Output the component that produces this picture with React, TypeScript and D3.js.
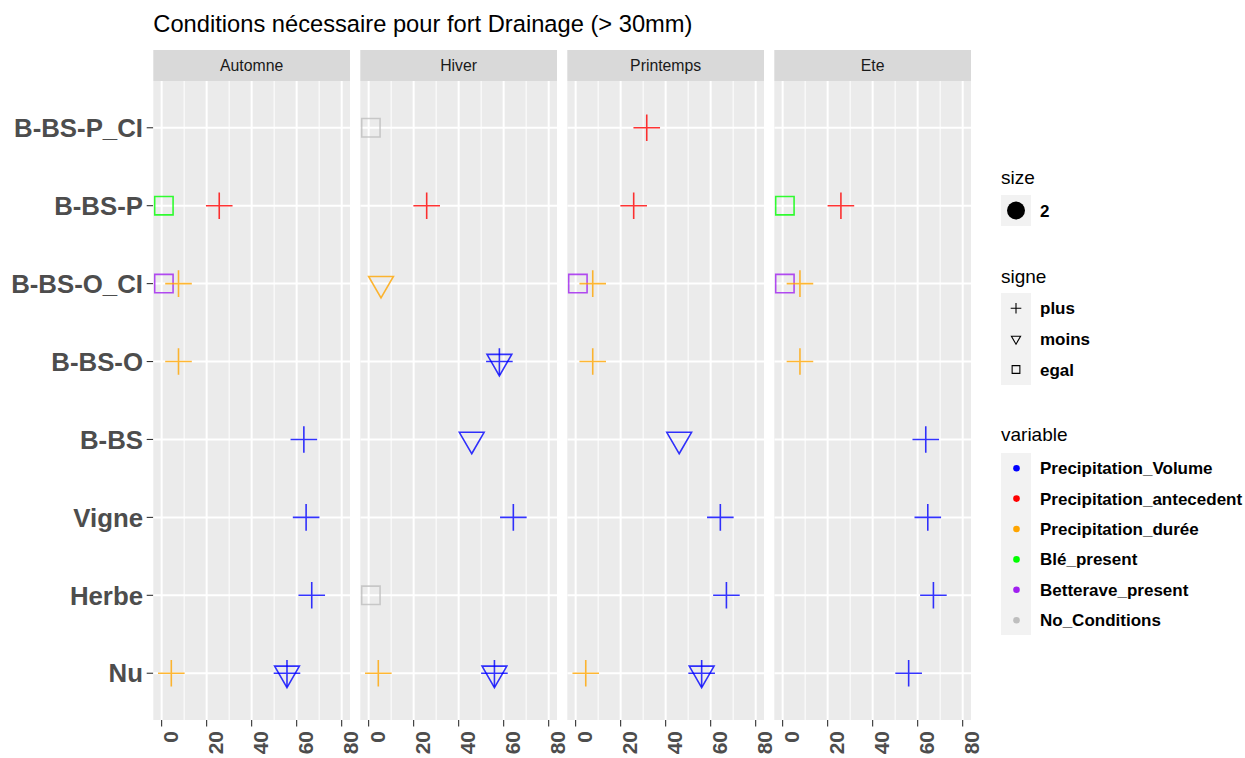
import React from "react";
import * as d3 from "d3";

const categories = ["B-BS-P_CI", "B-BS-P", "B-BS-O_CI", "B-BS-O", "B-BS", "Vigne", "Herbe", "Nu"];
const seasons = ["Automne", "Hiver", "Printemps", "Ete"];
const variables = ["Precipitation_Volume", "Precipitation_antecedent", "Precipitation_durée", "Blé_present", "Betterave_present", "No_Conditions"];
const signes = ["plus", "moins", "egal"];
const sizeLevels = ["2"];
const xTicks = [0, 20, 40, 60, 80];
const xMinorTicks = [10, 30, 50, 70];

// [category, variable, signe, value]
const automne: [string, string, string, number][] = [
  ["B-BS-P", "Blé_present", "egal", 1],
  ["B-BS-P", "Precipitation_antecedent", "plus", 25.6],
  ["B-BS-O_CI", "Betterave_present", "egal", 1],
  ["B-BS-O_CI", "Precipitation_durée", "plus", 7.5],
  ["B-BS-O", "Precipitation_durée", "plus", 7.5],
  ["B-BS", "Precipitation_Volume", "plus", 63.2],
  ["Vigne", "Precipitation_Volume", "plus", 64.2],
  ["Herbe", "Precipitation_Volume", "plus", 66.7],
  ["Nu", "Precipitation_durée", "plus", 4.3],
  ["Nu", "Precipitation_Volume", "moins", 55.7],
  ["Nu", "Precipitation_Volume", "plus", 55.7],
];
const hiver: [string, string, string, number][] = [
  ["B-BS-P_CI", "No_Conditions", "egal", 1],
  ["B-BS-P", "Precipitation_antecedent", "plus", 25.8],
  ["B-BS-O_CI", "Precipitation_durée", "moins", 5.5],
  ["B-BS-O", "Precipitation_Volume", "moins", 58.1],
  ["B-BS-O", "Precipitation_Volume", "plus", 58.1],
  ["B-BS", "Precipitation_Volume", "moins", 45.8],
  ["Vigne", "Precipitation_Volume", "plus", 64.3],
  ["Herbe", "No_Conditions", "egal", 1],
  ["Nu", "Precipitation_durée", "plus", 4.3],
  ["Nu", "Precipitation_Volume", "moins", 55.9],
  ["Nu", "Precipitation_Volume", "plus", 55.9],
];
const printemps: [string, string, string, number][] = [
  ["B-BS-P_CI", "Precipitation_antecedent", "plus", 31.6],
  ["B-BS-P", "Precipitation_antecedent", "plus", 25.8],
  ["B-BS-O_CI", "Betterave_present", "egal", 1],
  ["B-BS-O_CI", "Precipitation_durée", "plus", 7.6],
  ["B-BS-O", "Precipitation_durée", "plus", 7.6],
  ["B-BS", "Precipitation_Volume", "moins", 46],
  ["Vigne", "Precipitation_Volume", "plus", 64.3],
  ["Herbe", "Precipitation_Volume", "plus", 67],
  ["Nu", "Precipitation_durée", "plus", 4.5],
  ["Nu", "Precipitation_Volume", "moins", 56],
  ["Nu", "Precipitation_Volume", "plus", 56],
];
const ete: [string, string, string, number][] = [
  ["B-BS-P", "Blé_present", "egal", 1],
  ["B-BS-P", "Precipitation_antecedent", "plus", 25.9],
  ["B-BS-O_CI", "Betterave_present", "egal", 1],
  ["B-BS-O_CI", "Precipitation_durée", "plus", 7.7],
  ["B-BS-O", "Precipitation_durée", "plus", 7.7],
  ["B-BS", "Precipitation_Volume", "plus", 63.6],
  ["Vigne", "Precipitation_Volume", "plus", 64.5],
  ["Herbe", "Precipitation_Volume", "plus", 67],
  ["Nu", "Precipitation_Volume", "plus", 56],
];
const seasonData = [automne, hiver, printemps, ete];

const colorScale = d3
  .scaleOrdinal<string, string>()
  .domain(variables)
  .range(["#0000FF", "#FF0000", "#FFA500", "#00FF00", "#A020F0", "#BEBEBE"]);

const FONT = "'Liberation Sans', Arial, Helvetica, sans-serif";

function shapePath(signe: string, s: number): string {
  if (signe === "plus") {
    const h = 13.3 * s;
    return `M${-h},0H${h}M0,${-h}V${h}`;
  }
  if (signe === "moins") {
    const r = 14.3 * s;
    const w = r * 0.866;
    return `M0,${r}L${w},${-r / 2}L${-w},${-r / 2}Z`;
  }
  const q = 9.2 * s;
  return `M${-q},${-q}H${q}V${q}H${-q}Z`;
}

export default function App() {
  const panelLeft0 = 153.3;
  const panelW = 196.7;
  const gap = 10.3;
  const stripTop = 50;
  const panelTop = 81;
  const panelBottom = 720;

  const x = d3.scaleLinear().domain([-3.7, 83.7]).range([0, panelW]);
  const y = d3.scalePoint<string>().domain(categories).range([panelTop, panelBottom]).padding(0.6);

  const lx = 1001;
  const labelX = 1040;

  return (
    <svg
      width={1245}
      height={758}
      style={{ position: "absolute", left: 0, top: 0, background: "#FFFFFF" }}
      fontFamily={FONT}
    >
      <rect x={0} y={0} width={1245} height={758} fill="#FFFFFF" />
      <text x={panelLeft0} y={32} fontSize={23.7} fill="#000000">
        Conditions nécessaire pour fort Drainage (&gt; 30mm)
      </text>

      {/* y axis labels and ticks */}
      {categories.map((c) => (
        <g key={c}>
          <text
            x={143}
            y={y(c)!}
            dy={9.2}
            textAnchor="end"
            fontSize={25.8}
            fontWeight="bold"
            fill="#4D4D4D"
          >
            {c}
          </text>
          <line x1={146.7} x2={panelLeft0} y1={y(c)!} y2={y(c)!} stroke="#333333" strokeWidth={1.1} />
        </g>
      ))}

      {seasons.map((s, i) => {
        const left = panelLeft0 + i * (panelW + gap);
        const pts = seasonData[i];
        return (
          <g key={s}>
            <rect x={left} y={stripTop} width={panelW} height={panelTop - stripTop} fill="#D9D9D9" />
            <text
              x={left + panelW / 2}
              y={(stripTop + panelTop) / 2 + 5.6}
              textAnchor="middle"
              fontSize={15.8}
              fill="#1A1A1A"
            >
              {s}
            </text>
            <rect x={left} y={panelTop} width={panelW} height={panelBottom - panelTop} fill="#EBEBEB" />
            <clipPath id={`clip${i}`}>
              <rect x={left} y={panelTop} width={panelW} height={panelBottom - panelTop} />
            </clipPath>
            <g clipPath={`url(#clip${i})`}>
              {xMinorTicks.map((t) => (
                <line
                  key={`m${t}`}
                  x1={left + x(t)}
                  x2={left + x(t)}
                  y1={panelTop}
                  y2={panelBottom}
                  stroke="#FFFFFF"
                  strokeWidth={1}
                />
              ))}
              {xTicks.map((t) => (
                <line
                  key={`M${t}`}
                  x1={left + x(t)}
                  x2={left + x(t)}
                  y1={panelTop}
                  y2={panelBottom}
                  stroke="#FFFFFF"
                  strokeWidth={2}
                />
              ))}
              {categories.map((c) => (
                <line
                  key={c}
                  x1={left}
                  x2={left + panelW}
                  y1={y(c)!}
                  y2={y(c)!}
                  stroke="#FFFFFF"
                  strokeWidth={2}
                />
              ))}
              {pts.map((p, j) => (
                <path
                  key={j}
                  transform={`translate(${left + x(p[3])},${y(p[0])})`}
                  d={shapePath(p[2], 1)}
                  fill="none"
                  stroke={colorScale(p[1])}
                  strokeOpacity={0.8}
                  strokeWidth={1.6}
                />
              ))}
            </g>
            {xTicks.map((t) => (
              <g key={`t${t}`}>
                <line
                  x1={left + x(t)}
                  x2={left + x(t)}
                  y1={panelBottom}
                  y2={panelBottom + 6.6}
                  stroke="#333333"
                  strokeWidth={1.1}
                />
                <text
                  transform={`translate(${left + x(t) + 16.8},${731}) rotate(-90)`}
                  textAnchor="end"
                  fontSize={21}
                  fontWeight="bold"
                  fill="#4D4D4D"
                >
                  {t}
                </text>
              </g>
            ))}
          </g>
        );
      })}

      {/* Legend: size */}
      <text x={lx} y={184} fontSize={19} fill="#000000">size</text>
      <rect x={lx} y={195} width={30} height={31} fill="#F2F2F2" />
      {sizeLevels.map((l) => (
        <g key={l}>
          <circle cx={lx + 15} cy={210.5} r={9} fill="#000000" />
          <text x={labelX} y={216.5} fontSize={17} fontWeight="bold" fill="#000000">{l}</text>
        </g>
      ))}

      {/* Legend: signe */}
      <text x={lx} y={283} fontSize={19} fill="#000000">signe</text>
      <rect x={lx} y={293} width={30} height={92} fill="#F2F2F2" />
      {signes.map((s, i) => {
        const cy = 308.3 + i * 30.6;
        return (
          <g key={s}>
            <path
              transform={`translate(${lx + 15},${cy})`}
              d={shapePath(s, s === "plus" ? 0.4 : s === "moins" ? 0.37 : 0.42)}
              fill="none"
              stroke="#000000"
              strokeWidth={1.1}
            />
            <text x={labelX} y={cy + 6} fontSize={17} fontWeight="bold" fill="#000000">{s}</text>
          </g>
        );
      })}

      {/* Legend: variable */}
      <text x={lx} y={441} fontSize={19} fill="#000000">variable</text>
      <rect x={lx} y={453} width={30} height={182} fill="#F2F2F2" />
      {variables.map((v, i) => {
        const cy = 468.2 + i * 30.4;
        return (
          <g key={v}>
            <circle cx={lx + 15.5} cy={cy} r={3.3} fill={colorScale(v)} />
            <text x={labelX} y={cy + 6} fontSize={17} fontWeight="bold" fill="#000000">{v}</text>
          </g>
        );
      })}
    </svg>
  );
}
